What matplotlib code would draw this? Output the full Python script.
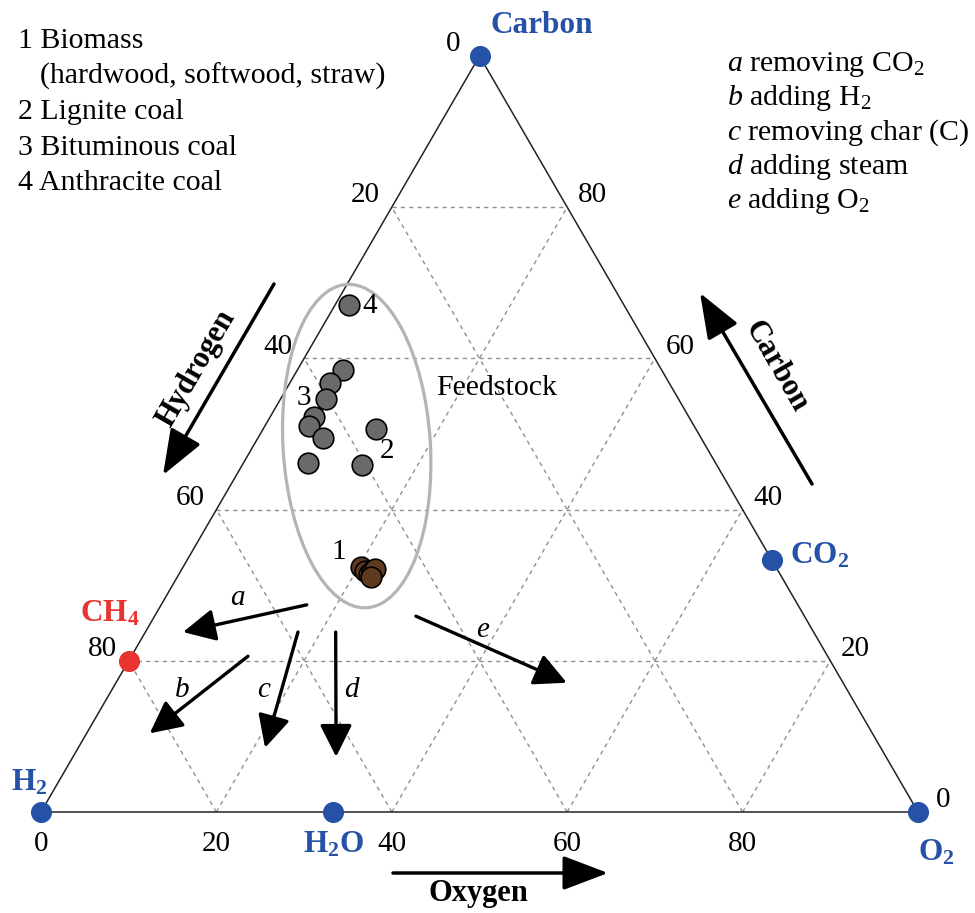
import numpy as np
import matplotlib.pyplot as plt
from matplotlib.patches import Ellipse

# 字体: Times 风格衬线体, 下标用 mathtext
plt.rcParams['font.family'] = ['Liberation Serif', 'DejaVu Serif']
plt.rcParams['mathtext.fontset'] = 'custom'
plt.rcParams['mathtext.rm'] = 'Liberation Serif'
plt.rcParams['mathtext.it'] = 'Liberation Serif:italic'
plt.rcParams['mathtext.bf'] = 'Liberation Serif:bold'

SQ3 = np.sqrt(3) / 2
BLUE = '#2552a6'
RED = '#e8332f'

# 原料组成 (摩尔 %): 碳, 氧; 氢 = 100 - 碳 - 氧
biomass_C = [32.4, 31.9, 31.5, 31.9, 32.1, 31.1]
biomass_O = [20.3, 21.0, 21.6, 21.8, 22.0, 22.1]
lignite_C = [50.7, 45.9]
lignite_O = [12.8, 13.7]
bituminous_C = [58.5, 56.8, 54.6, 52.3, 51.1, 49.5, 46.2]
bituminous_O = [5.2, 4.6, 5.2, 5.0, 5.0, 7.4, 7.3]
anthracite_C = [67.1]
anthracite_O = [1.6]

# 纯物质: 碳, 氧
species = ['Carbon', 'CO2', 'O2', 'H2O', 'H2', 'CH4']
species_C = [100, 33.3, 0, 0, 0, 20]
species_O = [0, 66.7, 100, 33.3, 0, 0]

# 转化方向箭头 (起点 碳/氧 -> 终点 碳/氧)
arrow_names = ['a', 'b', 'c', 'd', 'e']
arrow_start_C = [27.4, 20.6, 23.8, 23.8, 25.9]
arrow_start_O = [16.6, 13.3, 17.4, 21.7, 29.8]
arrow_end_C = [23.8, 10.4, 8.5, 7.3, 17.1]
arrow_end_O = [4.3, 7.2, 21.3, 30.0, 51.4]

ticks = [0, 20, 40, 60, 80]
grid_levels = [20, 40, 60, 80]

left_notes = ['1 Biomass', '(hardwood, softwood, straw)', '2 Lignite coal',
              '3 Bituminous coal', '4 Anthracite coal']
right_notes = [r'$\it{a}$ removing CO$_2$', r'$\it{b}$ adding H$_2$',
               r'$\it{c}$ removing char (C)', r'$\it{d}$ adding steam',
               r'$\it{e}$ adding O$_2$']


def tern(c, o):
    """碳/氧百分比 -> 平面坐标 (H2 在左下, O2 在右下, C 在顶点)"""
    c = np.asarray(c, dtype=float) / 100
    o = np.asarray(o, dtype=float) / 100
    return o + c / 2, c * SQ3


def px(x, y):
    """像素位置 -> 数据坐标, 用于放置文字"""
    return (x - 41) / 877, (812 - y) / 873


fig = plt.figure(figsize=(9.75, 9.13), dpi=100)
ax = fig.add_axes([0, 0, 1, 1])
ax.set_xlim(-41 / 877, (975 - 41) / 877)
ax.set_ylim(-(913 - 812) / 873, 812 / 873)
ax.axis('off')

# 网格虚线
for v in grid_levels:
    for (c0, o0), (c1, o1) in [((v, 0), (v, 100 - v)),        # 等碳线
                               ((0, v), (100 - v, v)),        # 等氧线
                               ((0, 100 - v), (100 - v, 0))]:  # 等氢线
        xs, ys = tern([c0, c1], [o0, o1])
        ax.plot(xs, ys, color='#909090', lw=1.0, ls=(0, (3, 3)), zorder=1)

# 三角形边框
xs, ys = tern([0, 0, 100, 0], [0, 100, 0, 0])
ax.plot(xs, ys, color='#222222', lw=1.1, zorder=2)

# 刻度数字
for v in ticks:
    x, y = tern(100 - v, 0)   # 左边: 氢
    ax.annotate(str(v), (x, y), xytext=(-19, 8.5), textcoords='offset points',
                ha='center', va='center', fontsize=21)
    x, y = tern(v, 100 - v)   # 右边: 碳
    ax.annotate(str(v), (x, y), xytext=(18, 8.5), textcoords='offset points',
                ha='center', va='center', fontsize=21)
    x, y = tern(0, v)         # 底边: 氧
    ax.annotate(str(v), (x, y), xytext=(0, -23), textcoords='offset points',
                ha='center', va='center', fontsize=21)

# 原料区域椭圆
ex, ey = tern(48.4, 11.8)
ax.add_patch(Ellipse((ex, ey), width=0.371, height=0.168, angle=93.5,
                     fill=False, ec='#b4b4b4', lw=2.3, zorder=3))

# 原料数据点
coal_C = anthracite_C + bituminous_C + lignite_C
coal_O = anthracite_O + bituminous_O + lignite_O
x, y = tern(coal_C, coal_O)
ax.scatter(x, y, s=220, c='#6a6a6a', edgecolors='black', linewidths=1.2, zorder=5)
x, y = tern(biomass_C, biomass_O)
ax.scatter(x, y, s=220, c='#5e3b20', edgecolors='black', linewidths=1.2, zorder=5)

# 纯物质顶点
for name, c, o in zip(species, species_C, species_O):
    x, y = tern(c, o)
    ax.scatter([x], [y], s=200, c=RED if name == 'CH4' else BLUE, zorder=6)

# 转化箭头
for i, name in enumerate(arrow_names):
    x0, y0 = tern(arrow_start_C[i], arrow_start_O[i])
    x1, y1 = tern(arrow_end_C[i], arrow_end_O[i])
    ax.annotate('', xy=(x1, y1), xytext=(x0, y0),
                arrowprops=dict(arrowstyle='-|>,head_length=0.9,head_width=0.45',
                                mutation_scale=22, color='black', lw=2.4,
                                shrinkA=0, shrinkB=0), zorder=4)
arrow_label_pos = [(237, 598), (182, 690), (264, 690), (351, 690), (483, 630)]
for name, (lx, ly) in zip(arrow_names, arrow_label_pos):
    ax.text(*px(lx, ly), name, style='italic', fontsize=21, ha='center', va='center')

# 数据点编号
for t, (lx, ly) in zip(['1', '2', '3', '4'], [(339, 552), (387, 451), (304, 398), (370, 306)]):
    ax.text(*px(lx, ly), t, fontsize=21, ha='center', va='center', zorder=7)
ax.text(*px(497, 388), 'Feedstock', fontsize=21.5, ha='center', va='center')

# 顶点名称
ax.text(*px(490, 33), 'Carbon', color=BLUE, fontsize=22.5, fontweight='bold', ha='left', va='baseline')
ax.text(*px(790, 563), r'$\mathbf{CO_2}$', color=BLUE, fontsize=22.5, ha='left', va='baseline')
ax.text(*px(918, 860), r'$\mathbf{O_2}$', color=BLUE, fontsize=22.5, ha='left', va='baseline')
ax.text(*px(334, 852), r'$\mathbf{H_2O}$', color=BLUE, fontsize=22.5, ha='center', va='baseline')
ax.text(*px(11, 790), r'$\mathbf{H_2}$', color=BLUE, fontsize=22.5, ha='left', va='baseline')
ax.text(*px(80, 622), r'$\mathbf{CH_4}$', color=RED, fontsize=22.5, ha='left', va='baseline')

# 坐标轴方向箭头与名称
axis_arrows = [((274, 284), (163, 475)), ((812, 484), (700, 293)), ((393, 873), (608, 873))]
for (sx, sy), (tx, ty) in axis_arrows:
    ax.annotate('', xy=px(tx, ty), xytext=px(sx, sy),
                arrowprops=dict(arrowstyle='-|>,head_length=1.0,head_width=0.38',
                                mutation_scale=28, color='black', lw=2.5,
                                shrinkA=0, shrinkB=0))
ax.text(*px(196, 369), 'Hydrogen', fontsize=22, fontweight='bold', rotation=60,
        ha='center', va='center', rotation_mode='anchor')
ax.text(*px(776, 367), 'Carbon', fontsize=22, fontweight='bold', rotation=-60,
        ha='center', va='center', rotation_mode='anchor')
ax.text(*px(478, 893), 'Oxygen', fontsize=22, fontweight='bold', ha='center', va='center')

# 左上/右上说明
for i, t in enumerate(left_notes):
    x0 = 40 if i == 1 else 18
    ax.text(*px(x0, 48 + 35.6 * i), t, fontsize=21.5, ha='left', va='baseline')
for i, t in enumerate(right_notes):
    ax.text(*px(727, 71 + 34.3 * i), t, fontsize=21.5, ha='left', va='baseline')

fig.savefig('out.png', dpi=100)
